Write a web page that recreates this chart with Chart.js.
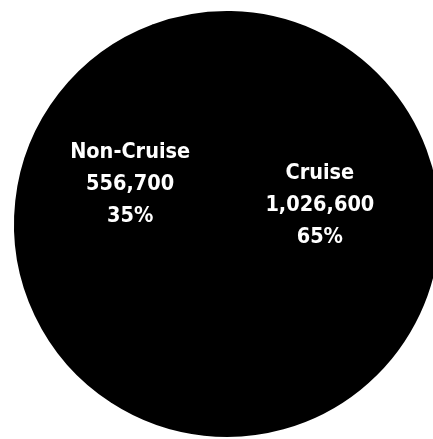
<!DOCTYPE html>
<html>
<head>
<meta charset="utf-8">
<script src="https://cdn.jsdelivr.net/npm/chart.js@4"></script>
<style>
  html, body { margin: 0; padding: 0; background: #fff; overflow: hidden; }
  #wrap { position: relative; width: 440px; height: 439px; }
</style>
</head>
<body>
<div id="wrap"><canvas id="c"></canvas></div>
<script>
const categories = ["Cruise", "Non-Cruise"];
const visitors = [1026600, 556700];

const labelPlugin = {
  id: 'sliceLabels',
  afterDatasetsDraw(chart, args, opts) {
    const ctx = chart.ctx;
    const meta = chart.getDatasetMeta(0);
    const data = chart.data.datasets[0].data;
    const total = data.reduce((a, b) => a + b, 0);
    ctx.save();
    ctx.fillStyle = opts.color;
    ctx.font = opts.font;
    ctx.textAlign = 'center';
    ctx.textBaseline = 'middle';
    meta.data.forEach((arc, i) => {
      const p = arc.getProps(['x', 'y', 'startAngle', 'endAngle', 'outerRadius'], true);
      const mid = (p.startAngle + p.endAngle) / 2;
      const cx = p.x + Math.cos(mid) * p.outerRadius * opts.radiusFrac + opts.dx;
      const cy = p.y + Math.sin(mid) * p.outerRadius * opts.radiusFrac + opts.dy;
      const lines = [
        chart.data.labels[i],
        data[i].toLocaleString('en-US'),
        Math.round(data[i] / total * 100) + '%'
      ];
      lines.forEach((t, k) => {
        ctx.fillText(t, cx, cy + (k - 1) * opts.lineHeight);
      });
    });
    ctx.restore();
  }
};

new Chart(document.getElementById('c'), {
  type: 'pie',
  data: {
    labels: categories,
    datasets: [{
      data: visitors,
      backgroundColor: ['#000000', '#000000'],
      borderColor: '#000000',
      borderWidth: 2
    }]
  },
  options: {
    responsive: true,
    maintainAspectRatio: false,
    animation: false,
    rotation: -20.5,
    layout: { padding: { left: 14, top: 11, right: 0, bottom: 2 } },
    plugins: {
      legend: { display: false },
      tooltip: { enabled: false },
      sliceLabels: {
        color: '#ffffff',
        font: "bold 21.5px 'DejaVu Sans Condensed', 'DejaVu Sans', sans-serif",
        radiusFrac: 0.45,
        dx: -2,
        dy: -29,
        lineHeight: 32
      }
    }
  },
  plugins: [labelPlugin]
});
</script>
</body>
</html>
